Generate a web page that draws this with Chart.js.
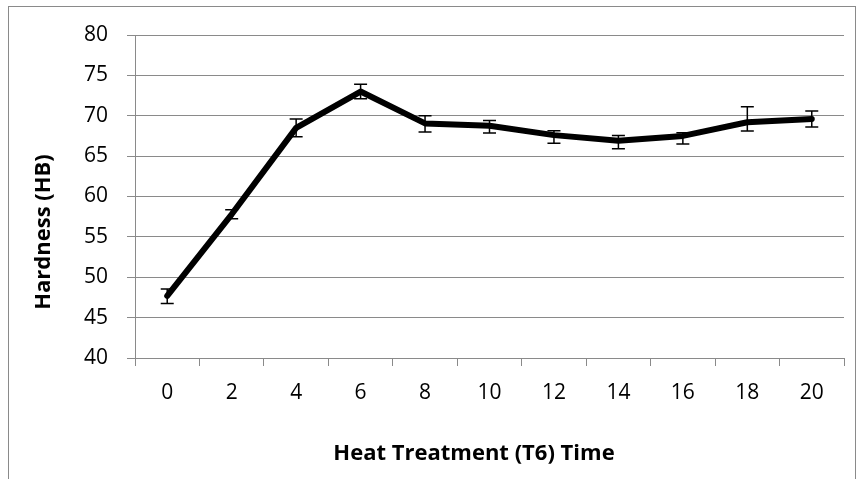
<!DOCTYPE html>
<html>
<head>
<meta charset="utf-8">
<script src="https://cdn.jsdelivr.net/npm/chart.js@4.4.0/dist/chart.umd.min.js"></script>
<style>
  html, body { margin: 0; padding: 0; background: #fff; }
  #wrap { width: 862px; height: 479px; }
</style>
</head>
<body>
<div id="wrap"><canvas id="hardnessChart" width="862" height="479"></canvas></div>
<script>
// ageing time (h) and mean Brinell hardness with error bar extents
const times = ["0", "2", "4", "6", "8", "10", "12", "14", "16", "18", "20"];
const hardness = [47.7, 57.8, 68.5, 73.0, 69.05, 68.75, 67.6, 66.9, 67.5, 69.2, 69.6];
const errUp = [0.85, 0.55, 1.1, 0.9, 0.95, 0.65, 0.55, 0.65, 0.4, 1.9, 1.0];
const errDown = [0.95, 0.55, 1.1, 0.9, 1.05, 0.9, 1.0, 1.0, 1.0, 1.1, 1.0];

const xTitle = "Heat Treatment (T6) Time";
const yTitle = "Hardness (HB)";

const gridColor = "#8a8a8a";
const fontFamily = "'Open Sans', 'Liberation Sans', sans-serif";

// frame around the whole figure
const framePlugin = {
    id: "frame",
    beforeDraw(chart) {
        const c = chart.ctx;
        c.save();
        c.strokeStyle = gridColor;
        c.lineWidth = 1;
        c.strokeRect(8.5, 6.5, 847, 480);
        c.restore();
    }
};

// axis titles sit a little off the plot centre, so place them by hand
const axisTitlePlugin = {
    id: "axisTitles",
    afterDraw(chart) {
        const c = chart.ctx;
        c.save();
        c.fillStyle = "#000";
        c.font = "bold 22px " + fontFamily;
        c.textAlign = "center";
        c.textBaseline = "alphabetic";
        c.fillText(xTitle, 474, 460);
        c.translate(50, 232);
        c.rotate(-Math.PI / 2);
        c.fillText(yTitle, 0, 0);
        c.restore();
    }
};

// vertical error bars with caps
const errorBarPlugin = {
    id: "errorBars",
    afterDatasetsDraw(chart) {
        const c = chart.ctx;
        const y = chart.scales.y;
        const meta = chart.getDatasetMeta(0);
        c.save();
        c.strokeStyle = "#000";
        c.lineWidth = 1.5;
        meta.data.forEach((pt, i) => {
            const top = y.getPixelForValue(hardness[i] + errUp[i]);
            const bot = y.getPixelForValue(hardness[i] - errDown[i]);
            const x = pt.x;
            c.beginPath();
            c.moveTo(x, top);
            c.lineTo(x, bot);
            c.moveTo(x - 6.5, top);
            c.lineTo(x + 6.5, top);
            c.moveTo(x - 6.5, bot);
            c.lineTo(x + 6.5, bot);
            c.stroke();
        });
        c.restore();
    }
};

new Chart(document.getElementById("hardnessChart"), {
    type: "line",
    data: {
        labels: times,
        datasets: [{
            data: hardness,
            borderColor: "#000",
            borderWidth: 6,
            borderJoinStyle: "round",
            borderCapStyle: "round",
            pointRadius: 0,
            tension: 0,
            fill: false
        }]
    },
    options: {
        responsive: false,
        animation: false,
        devicePixelRatio: 1,
        layout: {
            padding: { left: 0, top: 35, right: 18, bottom: 0 }
        },
        plugins: {
            legend: { display: false },
            tooltip: { enabled: false }
        },
        scales: {
            x: {
                type: "category",
                offset: true,
                afterFit(scale) { scale.height = 121; },
                grid: {
                    offset: true,
                    drawOnChartArea: false,
                    drawTicks: true,
                    tickLength: 8,
                    color: gridColor,
                    lineWidth: 1
                },
                border: { color: gridColor, width: 1 },
                ticks: {
                    color: "#000",
                    padding: 14,
                    maxRotation: 0,
                    font: { family: fontFamily, size: 21 }
                }
            },
            y: {
                min: 40,
                max: 80,
                afterFit(scale) { scale.width = 135; },
                grid: {
                    color: gridColor,
                    lineWidth: 1,
                    tickLength: 8
                },
                border: { color: gridColor, width: 1 },
                ticks: {
                    stepSize: 5,
                    color: "#000",
                    padding: 19,
                    font: { family: fontFamily, size: 21 }
                }
            }
        }
    },
    plugins: [framePlugin, axisTitlePlugin, errorBarPlugin]
});
</script>
</body>
</html>
